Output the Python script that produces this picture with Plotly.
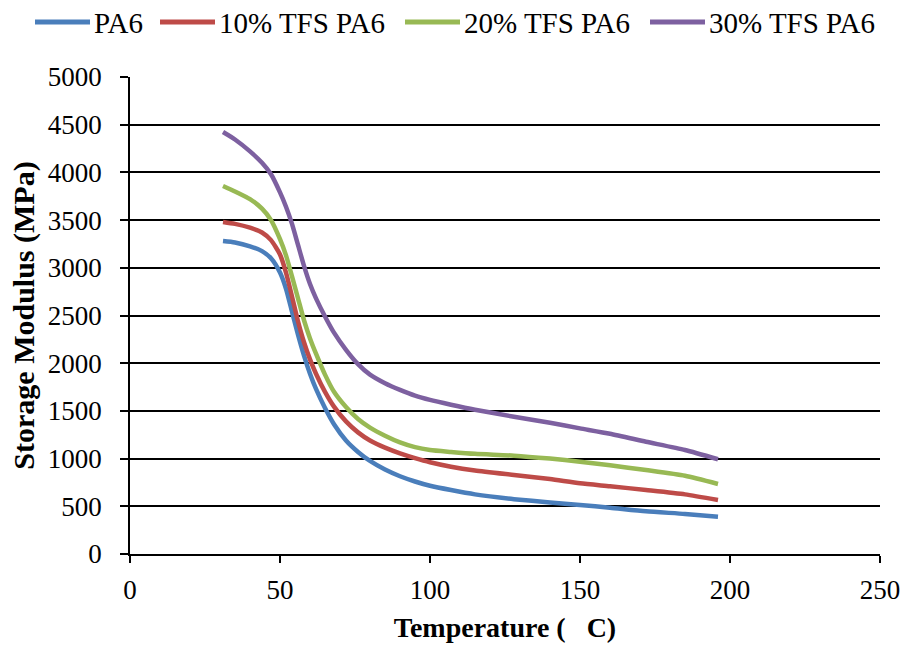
import plotly.graph_objects as go

temperature = [31, 35, 40, 44, 47, 50, 52, 54, 56, 58, 60, 62, 65, 68, 72, 76, 80, 85, 90, 95,
               100, 107, 115, 128, 140, 150, 160, 172, 185, 196]
pa6 = [3280, 3265, 3225, 3175, 3100, 2950, 2780, 2540, 2300, 2080, 1890, 1730, 1530, 1360, 1190,
       1070, 975, 885, 815, 760, 715, 670, 625, 575, 540, 514, 485, 447, 420, 391]
tfs10 = [3480, 3460, 3420, 3370, 3290, 3140, 2950, 2700, 2440, 2220, 2040, 1890, 1700, 1545, 1390,
         1275, 1190, 1115, 1055, 1005, 962, 915, 875, 828, 785, 741, 710, 671, 625, 566]
tfs20 = [3857, 3800, 3720, 3620, 3500, 3300, 3130, 2910, 2680, 2450, 2260, 2100, 1880, 1700, 1540,
         1415, 1325, 1240, 1170, 1120, 1090, 1070, 1050, 1031, 1000, 968, 930, 880, 820, 734]
tfs30 = [4423, 4345, 4220, 4100, 3980, 3790, 3640, 3460, 3240, 3020, 2830, 2680, 2490, 2320, 2140,
         1990, 1880, 1790, 1720, 1660, 1615, 1565, 1512, 1439, 1375, 1317, 1260, 1177, 1090, 993]

names = ["PA6", "10% TFS PA6", "20% TFS PA6", "30% TFS PA6"]
values = [pa6, tfs10, tfs20, tfs30]
colors = ["#4A7EBB", "#BE4B48", "#98B954", "#7D60A0"]

font_family = "Liberation Serif, Times New Roman, serif"

fig = go.Figure()
for name, vals, color in zip(names, values, colors):
    fig.add_trace(go.Scatter(
        x=temperature, y=vals, name=name, mode="lines", showlegend=False,
        line=dict(color=color, width=4.5, shape="spline", smoothing=0.6),
    ))

# Custom legend (long line samples like the original)
L, R, T, B = 130, 880, 77, 554
def px(xp):
    return (xp - L) / (R - L)
def py(yp):
    return (B - yp) / (B - T)

legend_line_starts = [35, 160, 405, 650]
legend_y = 22
for name, color, x0 in zip(names, colors, legend_line_starts):
    fig.add_shape(type="line", xref="paper", yref="paper",
                  x0=px(x0), x1=px(x0 + 55), y0=py(legend_y), y1=py(legend_y),
                  line=dict(color=color, width=5))
    fig.add_annotation(xref="paper", yref="paper", x=px(x0 + 57), y=py(legend_y + 1),
                       text=name, showarrow=False, xanchor="left", yanchor="middle",
                       font=dict(size=29, family=font_family, color="black"))

fig.update_layout(
    width=908, height=646,
    margin=dict(l=L, r=908 - R, t=T, b=646 - B, autoexpand=False),
    paper_bgcolor="white", plot_bgcolor="white",
    font=dict(family=font_family, size=27, color="black"),
    showlegend=False,
    xaxis=dict(
        range=[0, 250], tickvals=[0, 50, 100, 150, 200, 250],
        showgrid=False, zeroline=False, automargin=False,
        showline=True, linecolor="black", linewidth=1.5, mirror=False,
        ticks="outside", ticklen=7, tickcolor="black", tickwidth=1.5,
        ticklabelstandoff=4,
        title=dict(text="<b>Temperature (\u00a0\u00a0\u00a0C)</b>", font=dict(size=28), standoff=13),
        tickfont=dict(size=27),
    ),
    yaxis=dict(
        range=[0, 5000], tickvals=list(range(0, 5001, 500)),
        showgrid=True, gridcolor="black", gridwidth=1.5, zeroline=False, automargin=False,
        showline=True, linecolor="black", linewidth=1.5,
        ticks="outside", ticklen=8, tickcolor="black", tickwidth=1.5,
        ticklabelstandoff=13,
        title=dict(text="<b>Storage Modulus (MPa)</b>", font=dict(size=30), standoff=4),
        tickfont=dict(size=27),
    ),
)

fig.write_html("out.html")
